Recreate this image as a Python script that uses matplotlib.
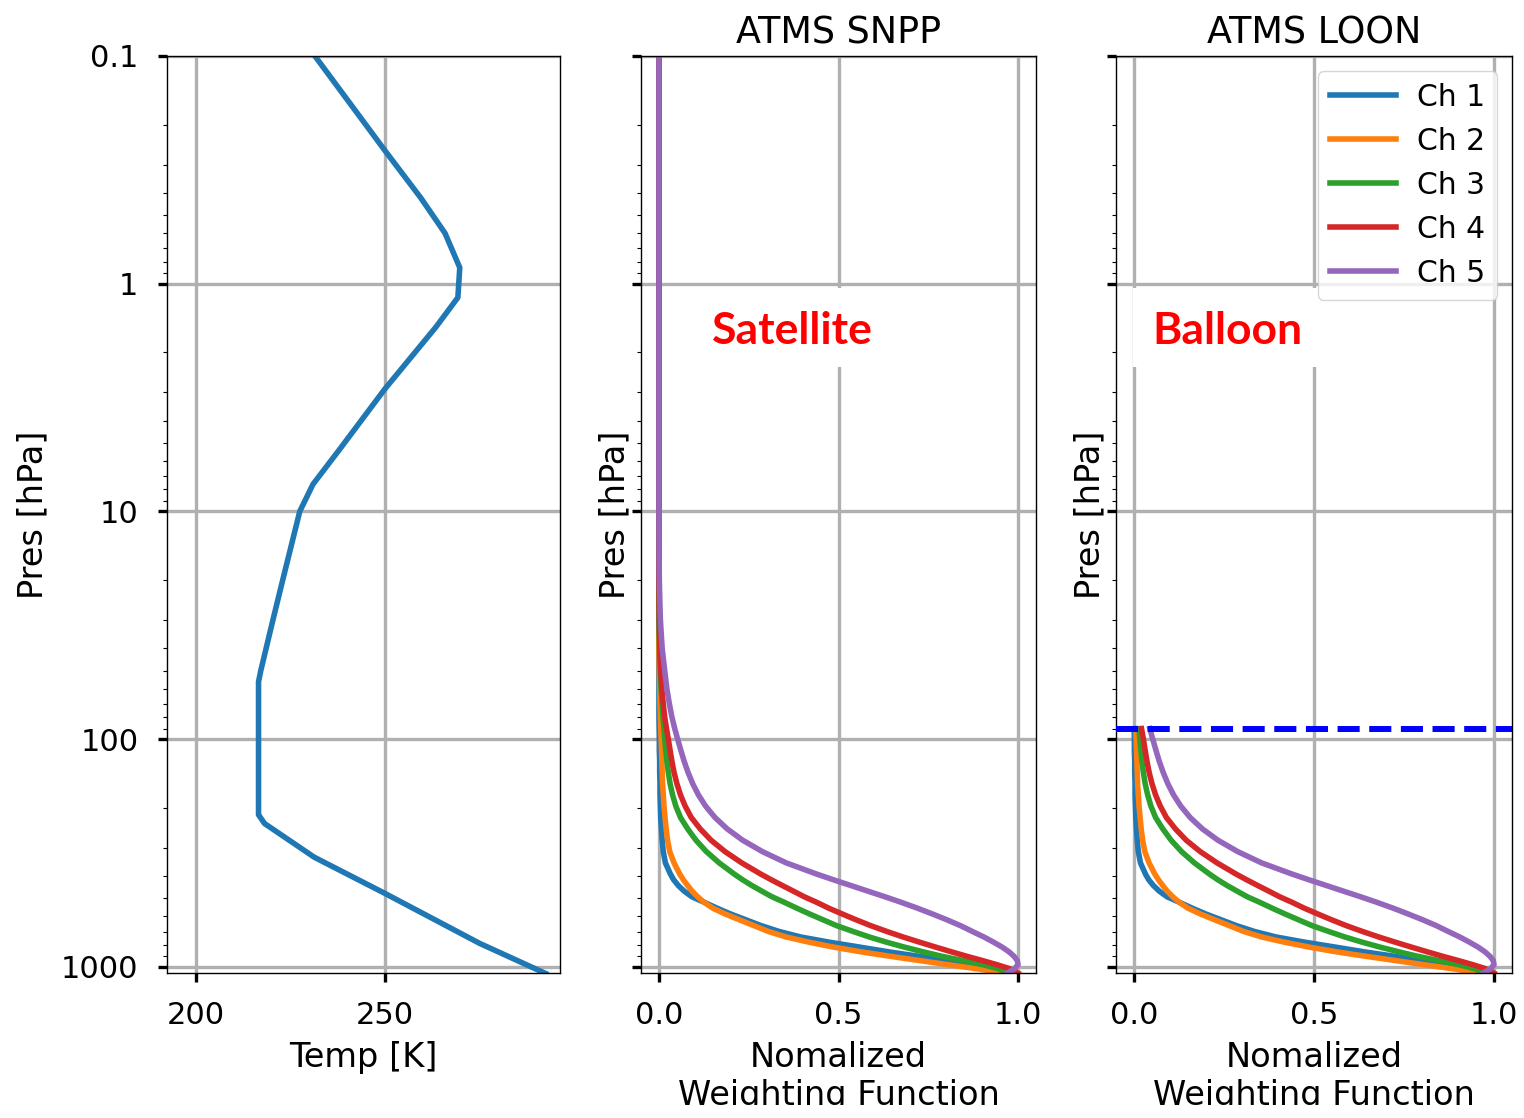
import matplotlib

matplotlib.use("Agg")
import matplotlib.pyplot as plt
import numpy as np
from matplotlib.patches import Rectangle
from matplotlib.ticker import NullFormatter

# Profil de température (hPa, K)
temp_pres = [0.1, 0.26, 0.42, 0.6, 0.85, 1.15, 1.55, 2.9, 5.35, 7.6, 10, 20, 30, 50, 56,
             215, 235, 330, 476, 790, 1070]
temp_k = [231.5, 250, 259.5, 265.9, 269.8, 269.3, 263.5, 250, 238, 231, 227.5, 223, 220.4,
          217.2, 216.6, 216.6, 218.2, 231.3, 250, 275.1, 292.5]

# Fonctions de poids normalisées
wf_pres = [0.1, 1, 5, 10, 15, 20, 25, 30, 40, 50, 60, 70, 80, 90,
           100, 112, 125, 140, 157, 176, 197, 221, 248, 278, 312, 350,
           392, 415, 440, 465, 493, 520, 553, 585,
           620, 660, 700, 740, 780, 820, 860, 900, 940, 980, 1020, 1066]
ch1 = [0, 0, 0, 0, 0, 0, 0, 0, 0, 0, 0, 0, 0, 0.0005,
       0.001, 0.001, 0.002, 0.002, 0.003, 0.003, 0.004, 0.005, 0.007, 0.009, 0.012, 0.018,
       0.032, 0.041, 0.054, 0.070, 0.092, 0.125, 0.162, 0.198,
       0.240, 0.285, 0.335, 0.395, 0.475, 0.560, 0.640, 0.725, 0.800, 0.868, 0.922, 0.965]
ch2 = [0, 0, 0, 0, 0, 0, 0, 0, 0, 0.001, 0.002, 0.003, 0.004, 0.005,
       0.006, 0.007, 0.008, 0.009, 0.010, 0.012, 0.014, 0.017, 0.020, 0.024, 0.030, 0.042,
       0.058, 0.068, 0.080, 0.092, 0.108, 0.125, 0.150, 0.183,
       0.222, 0.265, 0.305, 0.355, 0.418, 0.487, 0.563, 0.645, 0.728, 0.807, 0.885, 0.962]
ch3 = [0, 0, 0, 0, 0, 0, 0, 0, 0.002, 0.004, 0.006, 0.009, 0.011, 0.014,
       0.016, 0.019, 0.022, 0.026, 0.031, 0.038, 0.047, 0.060, 0.080, 0.103, 0.132, 0.168,
       0.210, 0.233, 0.259, 0.286, 0.315, 0.348, 0.384, 0.418,
       0.455, 0.495, 0.541, 0.586, 0.634, 0.684, 0.736, 0.789, 0.848, 0.903, 0.945, 0.979]
ch4 = [0, 0, 0, 0, 0, 0, 0.0005, 0.001, 0.003, 0.005, 0.008, 0.012, 0.016, 0.021,
       0.026, 0.031, 0.036, 0.042, 0.050, 0.060, 0.073, 0.090, 0.115, 0.145, 0.184, 0.231,
       0.284, 0.313, 0.344, 0.374, 0.405, 0.438, 0.473, 0.509,
       0.547, 0.590, 0.635, 0.680, 0.726, 0.771, 0.815, 0.858, 0.902, 0.942, 0.977, 1.0]
ch5 = [0, 0, 0, 0, 0.0003, 0.001, 0.0025, 0.004, 0.009, 0.016, 0.022, 0.029, 0.036, 0.044,
       0.052, 0.061, 0.070, 0.081, 0.094, 0.110, 0.130, 0.156, 0.190, 0.233, 0.288, 0.355,
       0.440, 0.486, 0.535, 0.581, 0.630, 0.673, 0.720, 0.760,
       0.800, 0.840, 0.873, 0.905, 0.932, 0.956, 0.975, 0.989, 0.998, 1.0, 0.990, 0.970]
channels = [ch1, ch2, ch3, ch4, ch5]
ch_labels = ["Ch 1", "Ch 2", "Ch 3", "Ch 4", "Ch 5"]
balloon_pres = 90

pres_ticks = [0.1, 1, 10, 100, 1000]
pres_labels = ["0.1", "1", "10", "100", "1000"]

W, H = 1524, 1118
fig = plt.figure(figsize=(W / 100, H / 100), dpi=100)
bottom = (H - 973) / H
height = 917 / H
ax1 = fig.add_axes([167 / W, bottom, 393 / W, height])
ax2 = fig.add_axes([641 / W, bottom, 395 / W, height])
ax3 = fig.add_axes([1116 / W, bottom, 396 / W, height])

for ax in (ax1, ax2, ax3):
    ax.set_yscale("log")
    ax.set_ylim(1065, 0.1)
    ax.set_yticks(pres_ticks)
    ax.set_yticklabels(pres_labels)
    ax.yaxis.set_minor_formatter(NullFormatter())
    ax.grid(True, which="major", color="#b0b0b0", linewidth=2.4)
    ax.tick_params(which="major", length=6.5, width=2.4, pad=14, labelsize=22)
    ax.tick_params(which="minor", length=3, width=0.8)
    for sp in ax.spines.values():
        sp.set_linewidth(1.0)
    ax.set_ylabel("Pres [hPa]", fontsize=24.2)

# Panneau température
ax1.plot(temp_k, temp_pres, color="#1f77b4", linewidth=4.0)
ax1.set_xlim(192.4, 296.3)
ax1.set_xticks([200, 250])
ax1.set_xlabel("Temp [K]", fontsize=24.2)
ax1.yaxis.set_label_coords(-0.299, 0.5)
ax1.xaxis.set_label_coords(0.5, -0.074)

pres = np.array(wf_pres)
for ax, title in ((ax2, "ATMS SNPP"), (ax3, "ATMS LOON")):
    mask = pres >= (balloon_pres if ax is ax3 else 0)
    for vals, lab in zip(channels, ch_labels):
        ax.plot(np.array(vals)[mask], pres[mask], linewidth=4.0, label=lab)
    ax.set_xlim(-0.05, 1.05)
    ax.set_xticks([0.0, 0.5, 1.0])
    ax.tick_params(labelleft=False)
    ax.set_title(title, fontsize=26.3, pad=9)
    ax.set_xlabel("Nomalized\nWeighting Function", fontsize=24.2)
    ax.yaxis.set_label_coords(-0.025, 0.5)
    ax.xaxis.set_label_coords(0.5, -0.074)

# Boîtes blanches + annotations rouges
ax2.add_patch(Rectangle((0.08, 0.661), 0.80, 0.086, transform=ax2.transAxes,
                        facecolor="white", edgecolor="none", zorder=2.5))
ax2.text(0.3835, 0.686, "Satellite", transform=ax2.transAxes, ha="center", va="baseline",
         color="red", fontsize=32, fontweight="bold", family="Lato", zorder=4)
ax3.add_patch(Rectangle((0.043, 0.661), 0.485, 0.086, transform=ax3.transAxes,
                        facecolor="white", edgecolor="none", zorder=2.5))
ax3.text(0.2816, 0.686, "Balloon", transform=ax3.transAxes, ha="center", va="baseline",
         color="red", fontsize=32, fontweight="bold", family="Lato", zorder=4)

ax3.axhline(balloon_pres, color="blue", linestyle="--", linewidth=4.3, zorder=3)
ax3.legend(loc="upper right", fontsize=21.5, handlelength=2.2, handletextpad=0.7,
           labelspacing=0.5, borderpad=0.4)

# bande blanche du bas (capture d'origine tronquée)
fig.add_artist(Rectangle((0, 0), 1, 13 / H, transform=fig.transFigure,
                         facecolor="white", edgecolor="none", zorder=10))

fig.savefig("out.png", dpi=100)
plt.close(fig)
